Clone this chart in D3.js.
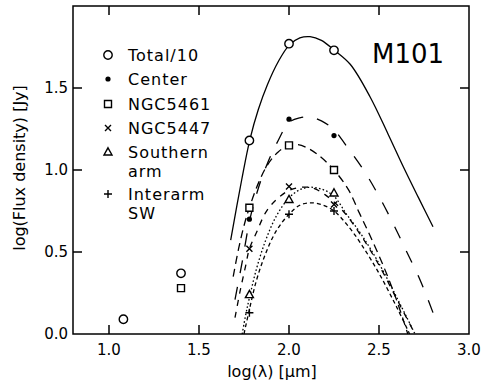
<!DOCTYPE html>
<html>
<head>
<meta charset="utf-8">
<script src="https://cdn.jsdelivr.net/npm/d3@7"></script>
<style>
  body { margin: 0; background: #fff; }
  text { font-family: "DejaVu Sans", sans-serif; fill: #000; }
</style>
</head>
<body>
<div id="chart"></div>
<script>
// measured points: [log(lambda), log(flux)]
const total = [[1.08, 0.09], [1.40, 0.37], [1.78, 1.18], [2.0, 1.77], [2.25, 1.73]];
const center = [[1.78, 0.70], [2.0, 1.31], [2.25, 1.21]];
const ngc5461 = [[1.40, 0.28], [1.78, 0.77], [2.0, 1.15], [2.25, 1.00]];
const ngc5447 = [[1.78, 0.52], [2.0, 0.90], [2.25, 0.79]];
const southArm = [[1.78, 0.24], [2.0, 0.82], [2.25, 0.86]];
const interarm = [[1.78, 0.13], [2.0, 0.73], [2.25, 0.75]];

// model curves
const totalFit = [[1.676, 0.573], [1.737, 0.939], [1.783, 1.187], [1.83, 1.37], [1.88, 1.52], [1.94, 1.66],
  [2.0, 1.76], [2.06, 1.805], [2.117, 1.813], [2.18, 1.79], [2.25, 1.732], [2.34, 1.645], [2.45, 1.447],
  [2.55, 1.22], [2.635, 1.02], [2.72, 0.83], [2.80, 0.654]];
const centerFit = [[1.70, 0.21], [1.74, 0.44], [1.783, 0.70], [1.83, 0.89], [1.88, 1.04], [1.94, 1.18],
  [2.0, 1.29], [2.06, 1.318], [2.117, 1.323], [2.18, 1.30], [2.25, 1.245], [2.33, 1.13], [2.42, 0.99],
  [2.50, 0.84], [2.58, 0.67], [2.65, 0.51], [2.73, 0.325], [2.80, 0.13]];
const ngc5461Fit = [[1.69, 0.35], [1.72, 0.52], [1.75, 0.66], [1.78, 0.77], [1.83, 0.92], [1.88, 1.03],
  [1.94, 1.11], [2.0, 1.15], [2.05, 1.155], [2.11, 1.13], [2.17, 1.085], [2.25, 1.0], [2.33, 0.88],
  [2.39, 0.74], [2.45, 0.60], [2.53, 0.40], [2.6, 0.20], [2.66, 0.0]];
const ngc5447Fit = [[1.70, 0.10], [1.73, 0.27], [1.76, 0.42], [1.78, 0.52], [1.82, 0.62], [1.87, 0.74],
  [1.93, 0.82], [2.0, 0.875], [2.07, 0.895], [2.13, 0.89], [2.2, 0.85], [2.3, 0.75], [2.4, 0.60],
  [2.5, 0.42], [2.6, 0.21], [2.70, 0.0]];
const southArmFit = [[1.74, 0.0], [1.76, 0.12], [1.78, 0.22], [1.82, 0.40], [1.87, 0.57], [1.93, 0.72],
  [2.0, 0.83], [2.06, 0.88], [2.12, 0.895], [2.19, 0.88], [2.25, 0.84], [2.32, 0.73], [2.4, 0.61],
  [2.5, 0.43], [2.6, 0.22], [2.70, 0.0]];
const interarmFit = [[1.75, 0.0], [1.78, 0.15], [1.82, 0.33], [1.87, 0.49], [1.93, 0.63], [2.0, 0.73],
  [2.06, 0.785], [2.12, 0.80], [2.19, 0.785], [2.25, 0.75], [2.32, 0.67], [2.4, 0.55], [2.5, 0.37],
  [2.6, 0.16], [2.67, 0.0]];

const xTicks = [1.0, 1.5, 2.0, 2.5, 3.0];
const yTicks = [0.0, 0.5, 1.0, 1.5];
const legendNames = [["Total/10"], ["Center"], ["NGC5461"], ["NGC5447"], ["Southern", "arm"], ["Interarm", "SW"]];

const width = 482, height = 385;
const x = d3.scaleLinear().domain([0.8, 3.0]).range([73, 469]);
const y = d3.scaleLinear().domain([0, 2.0]).range([334, 6]);

const svg = d3.select("#chart").append("svg")
  .attr("width", width)
  .attr("height", height);

svg.append("defs").append("clipPath").attr("id", "plot")
  .append("rect")
  .attr("x", x(0.8)).attr("y", y(2.0))
  .attr("width", x(3.0) - x(0.8)).attr("height", y(0) - y(2.0));

// curves
const line = d3.line().x(d => x(d[0])).y(d => y(d[1])).curve(d3.curveCatmullRom);
const fits = [
  { pts: totalFit, dash: null },
  { pts: centerFit, dash: "13,14" },
  { pts: ngc5461Fit, dash: "8,5" },
  { pts: ngc5447Fit, dash: "6,6" },
  { pts: southArmFit, dash: "1.6,2.2" },
  { pts: interarmFit, dash: "4,3" }
];
const curves = svg.append("g").attr("clip-path", "url(#plot)");
fits.forEach(f => {
  curves.append("path")
    .attr("d", line(f.pts))
    .attr("fill", "none")
    .attr("stroke", "#000")
    .attr("stroke-width", 1.3)
    .attr("stroke-dasharray", f.dash);
});

// markers
function marker(g, type, cx, cy) {
  const m = g.append("path")
    .attr("transform", `translate(${cx},${cy})`)
    .attr("stroke", "#000")
    .attr("stroke-width", 1.4)
    .attr("fill", "#fff");
  if (type === "circle") m.attr("d", d3.arc()({ innerRadius: 0, outerRadius: 4.2, startAngle: 0, endAngle: 2 * Math.PI }));
  if (type === "dot") m.attr("d", d3.arc()({ innerRadius: 0, outerRadius: 2.6, startAngle: 0, endAngle: 2 * Math.PI })).attr("fill", "#000").attr("stroke", "none");
  if (type === "square") m.attr("d", "M-3.5,-3.5H3.5V3.5H-3.5Z");
  if (type === "cross") m.attr("d", "M-3,-3L3,3M-3,3L3,-3").attr("fill", "none");
  if (type === "triangle") m.attr("d", "M0,-4.2L4,3L-4,3Z");
  if (type === "plus") m.attr("d", "M-4,0H4M0,-4V4").attr("fill", "none");
}

const series = [
  { pts: total, type: "circle" },
  { pts: center, type: "dot" },
  { pts: ngc5461, type: "square" },
  { pts: ngc5447, type: "cross" },
  { pts: southArm, type: "triangle" },
  { pts: interarm, type: "plus" }
];
const marks = svg.append("g");
series.forEach(s => s.pts.forEach(d => marker(marks, s.type, x(d[0]), y(d[1]))));

// frame and inward ticks
const frame = svg.append("g").attr("stroke", "#000").attr("stroke-width", 1.5).attr("fill", "none");
frame.append("rect")
  .attr("x", x(0.8)).attr("y", y(2.0))
  .attr("width", x(3.0) - x(0.8)).attr("height", y(0) - y(2.0));
const tl = 9;
xTicks.slice(0, -1).forEach(t => {
  frame.append("line").attr("x1", x(t)).attr("x2", x(t)).attr("y1", y(0)).attr("y2", y(0) - tl);
  frame.append("line").attr("x1", x(t)).attr("x2", x(t)).attr("y1", y(2)).attr("y2", y(2) + tl);
});
yTicks.slice(1).forEach(t => {
  frame.append("line").attr("x1", x(0.8)).attr("x2", x(0.8) + tl).attr("y1", y(t)).attr("y2", y(t));
  frame.append("line").attr("x1", x(3.0)).attr("x2", x(3.0) - tl).attr("y1", y(t)).attr("y2", y(t));
});

// tick labels
svg.append("g").selectAll("text").data(xTicks).join("text")
  .attr("x", d => x(d)).attr("y", y(0) + 21)
  .attr("text-anchor", "middle")
  .style("font-size", "15px")
  .text(d => d.toFixed(1));
svg.append("g").selectAll("text").data(yTicks).join("text")
  .attr("x", x(0.8) - 5).attr("y", d => y(d) + 5)
  .attr("text-anchor", "end")
  .style("font-size", "15px")
  .text(d => d.toFixed(1));

// axis titles
svg.append("text")
  .attr("x", 272).attr("y", 377)
  .attr("text-anchor", "middle")
  .style("font-size", "16px")
  .text("log(λ) [μm]");
svg.append("text")
  .attr("transform", "translate(25,168) rotate(-90)")
  .attr("text-anchor", "middle")
  .style("font-size", "16px")
  .text("log(Flux density) [Jy]");

svg.append("text")
  .attr("x", 372).attr("y", 63)
  .style("font-size", "26px")
  .text("M101");

// legend, two-line entries kept in one text element
const rowY = [55, 79, 104, 128, 152, 194];
const legend = svg.append("g");
legendNames.forEach((names, i) => {
  marker(legend, series[i].type, 108, rowY[i]);
  const t = legend.append("text")
    .attr("x", 128).attr("y", rowY[i] + 6)
    .style("font-size", "16px")
    .style("letter-spacing", "1px");
  names.forEach((n, j) => {
    t.append("tspan")
      .attr("x", 128)
      .attr("dy", j === 0 ? 0 : 19)
      .text(n);
  });
});
</script>
</body>
</html>
